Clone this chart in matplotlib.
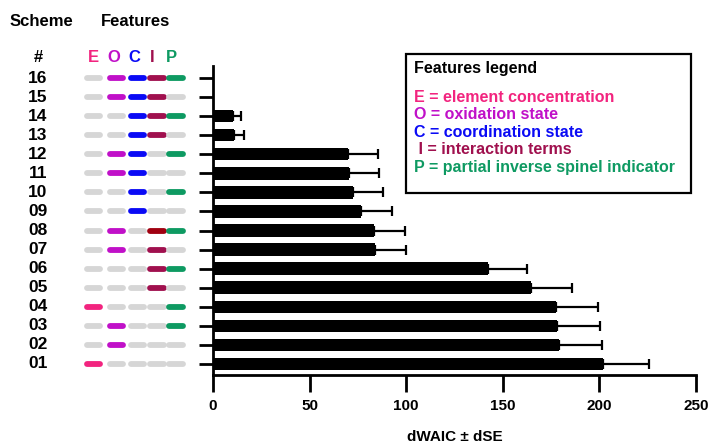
import matplotlib
matplotlib.use('Agg')
import matplotlib.pyplot as plt
from matplotlib.patches import Rectangle
import numpy as np

plt.rcParams['font.family'] = ['Liberation Sans', 'DejaVu Sans']
plt.rcParams['font.weight'] = 'bold'

schemes = ['01', '02', '03', '04', '05', '06', '07', '08',
           '09', '10', '11', '12', '13', '14', '15', '16']
dwaic = [202, 179.3, 177.9, 177.4, 164.4, 142.5, 83.8, 83.5,
         76.4, 72.5, 70.4, 70, 11, 10.2, 0, 0]
dse = [23.5, 22.2, 22.4, 21.9, 21.3, 20.2, 16.2, 16,
       16.2, 15.3, 15.3, 15.6, 4.9, 4.5, 0, 0]

# feature flags per scheme: E, O, C, I, P  (2 = dark-red interaction)
features = [
    [1, 0, 0, 0, 0],  # 01
    [0, 1, 0, 0, 0],  # 02
    [0, 1, 0, 0, 1],  # 03
    [1, 0, 0, 0, 1],  # 04
    [0, 0, 0, 1, 0],  # 05
    [0, 0, 0, 1, 1],  # 06
    [0, 1, 0, 1, 0],  # 07
    [0, 1, 0, 2, 1],  # 08
    [0, 0, 1, 0, 0],  # 09
    [0, 0, 1, 0, 1],  # 10
    [0, 1, 1, 0, 0],  # 11
    [0, 1, 1, 0, 1],  # 12
    [0, 0, 1, 1, 0],  # 13
    [0, 0, 1, 1, 1],  # 14
    [0, 1, 1, 1, 0],  # 15
    [0, 1, 1, 1, 1],  # 16
]
letters = ['E', 'O', 'C', 'I', 'P']
feat_colors = ['#F2247F', '#C010C8', '#0A0AF5', '#A0104E', '#0E9A62']
dark_i = '#A00010'
gray = '#D6D6D6'
legend_lines = ['E = element concentration', 'O = oxidation state',
                'C = coordination state', ' I = interaction terms',
                'P = partial inverse spinel indicator']

W, H = 710, 446
fig = plt.figure(figsize=(7.1, 4.46), dpi=100)

y = np.arange(1, len(schemes) + 1)
ylim = (0.42, 16.63)
bottom = 1 - 375 / H
height = (375 - 66) / H

ax = fig.add_axes([213 / W, bottom, 483 / W, height])
ax.barh(y, dwaic, height=0.65, color='black')
m = np.array(dse) > 0
ax.errorbar(np.array(dwaic)[m], y[m], xerr=[np.zeros(m.sum()), np.array(dse)[m]],
            fmt='none', ecolor='black', elinewidth=1.6, capsize=3.5, capthick=1.6)
ax.set_xlim(0, 250)
ax.set_ylim(*ylim)
ax.set_xticks([0, 50, 100, 150, 200, 250])
ax.set_yticks(y)
ax.set_yticklabels([])
ax.spines['top'].set_visible(False)
ax.spines['right'].set_visible(False)
ax.spines['left'].set_linewidth(2)
ax.spines['bottom'].set_linewidth(2)
ax.tick_params(axis='y', length=10, width=2)
ax.tick_params(axis='x', length=12, width=2, pad=5, labelsize=11)
for t in ax.get_xticklabels():
    t.set_fontweight('bold')
fig.text(454.5 / W, 1 - 437 / H, 'dWAIC ± dSE', ha='center', va='center',
         fontsize=11, fontweight='bold')

# left panel: scheme numbers and feature indicators
ax2 = fig.add_axes([0, bottom, 213 / W, height])
ax2.set_xlim(0, 213)
ax2.set_ylim(*ylim)
ax2.axis('off')
centers = [93.5, 116.5, 137.5, 157, 176]
for yi, name, flags in zip(y, schemes, features):
    ax2.text(38, yi, name, ha='center', va='center', fontsize=12.5, fontweight='bold')
    for j, f in enumerate(flags):
        c = gray if f == 0 else (dark_i if f == 2 else feat_colors[j])
        ax2.plot([centers[j] - 6.7, centers[j] + 6.7], [yi, yi], color=c,
                 lw=4.2, solid_capstyle='round')

fig.text(41 / W, 1 - 21 / H, 'Scheme', ha='center', va='center', fontsize=12, fontweight='bold')
fig.text(136 / W, 1 - 21 / H, 'Features', ha='center', va='center', fontsize=12, fontweight='bold')
fig.text(38 / W, 1 - 58 / H, '#', ha='center', va='center', fontsize=12, fontweight='bold')
for lx, l, c in zip([93.5, 113.5, 134, 152, 171], letters, feat_colors):
    fig.text(lx / W, 1 - 58 / H, l, ha='center', va='center', fontsize=12,
             fontweight='bold', color=c)

# features legend box
fig.patches.append(Rectangle((406 / W, 1 - 193 / H), 285 / W, 139 / H,
                             transform=fig.transFigure, fill=False,
                             edgecolor='black', linewidth=1.6))
fig.text(414 / W, 1 - 69 / H, 'Features legend', ha='left', va='center',
         fontsize=11.5, fontweight='bold')
for i, (txt, c) in enumerate(zip(legend_lines, feat_colors)):
    fig.text(414 / W, 1 - (97.5 + 17.4 * i) / H, txt, ha='left', va='center',
             fontsize=11.5, fontweight='bold', color=c)

fig.savefig('out.png', dpi=100)
